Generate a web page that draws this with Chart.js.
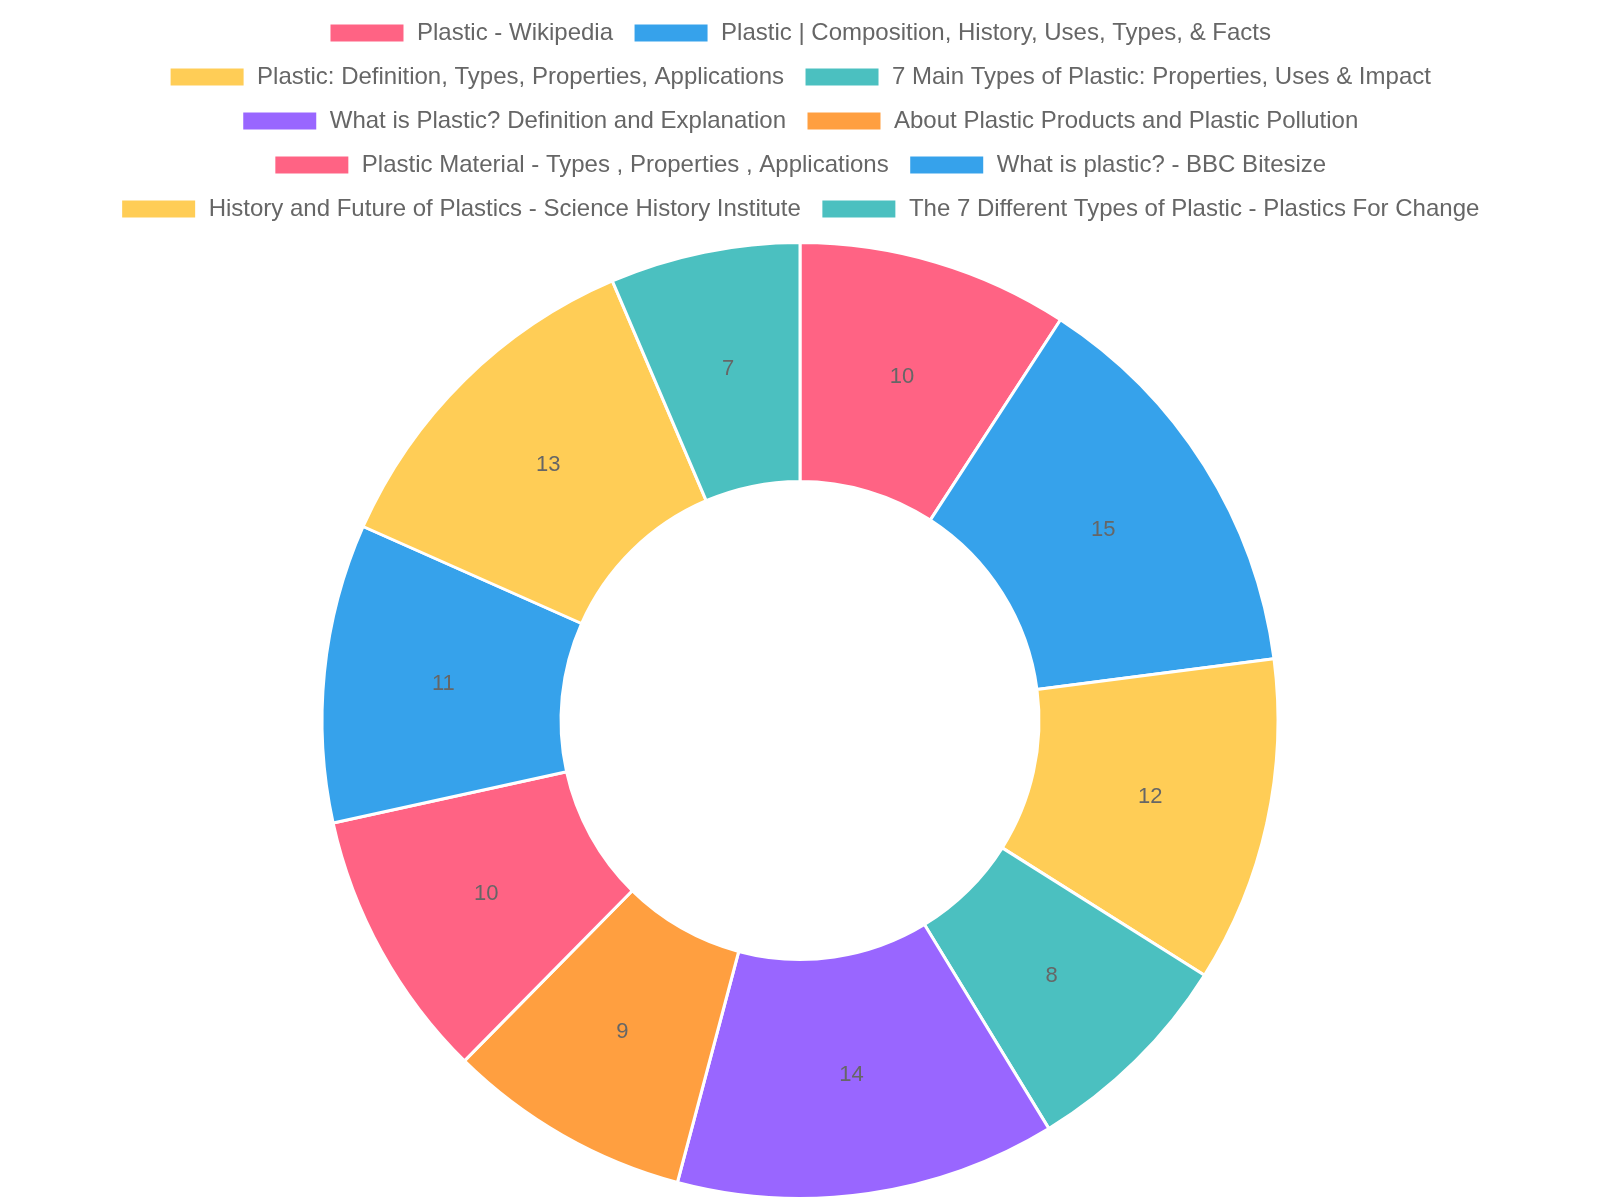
<!DOCTYPE html>
<html>
<head>
<meta charset="utf-8">
<script src="https://cdn.jsdelivr.net/npm/chart.js@4"></script>
<style>
  html, body { margin: 0; padding: 0; background: #fff; }
  #wrap { width: 1600px; height: 1200px; }
</style>
</head>
<body>
<div id="wrap"><canvas id="doughnutChart"></canvas></div>
<script>
// Chart data
const labels = [
    'Plastic - Wikipedia',
    'Plastic | Composition, History, Uses, Types, & Facts',
    'Plastic: Definition, Types, Properties, Applications',
    '7 Main Types of Plastic: Properties, Uses & Impact',
    'What is Plastic? Definition and Explanation',
    'About Plastic Products and Plastic Pollution',
    'Plastic Material - Types , Properties , Applications',
    'What is plastic? - BBC Bitesize',
    'History and Future of Plastics - Science History Institute',
    'The 7 Different Types of Plastic - Plastics For Change'
];
const values = [10, 15, 12, 8, 14, 9, 10, 11, 13, 7];
const sliceColors = [
    'rgb(255, 99, 132)', 'rgb(54, 162, 235)', 'rgb(255, 205, 86)', 'rgb(75, 192, 192)',
    'rgb(153, 102, 255)', 'rgb(255, 159, 64)', 'rgb(255, 99, 132)', 'rgb(54, 162, 235)',
    'rgb(255, 205, 86)', 'rgb(75, 192, 192)'
];

// Draws each value in the middle of its arc
const valueLabels = {
    id: 'valueLabels',
    afterDatasetsDraw: (chart) => {
        const ctx = chart.ctx;
        const meta = chart.getDatasetMeta(0);
        ctx.save();
        ctx.font = '22px "Helvetica Neue", Helvetica, Arial, sans-serif';
        ctx.fillStyle = '#666';
        ctx.textAlign = 'center';
        ctx.textBaseline = 'middle';
        meta.data.forEach((arc, i) => {
            const pos = arc.tooltipPosition();
            ctx.fillText(String(chart.data.datasets[0].data[i]), pos.x, pos.y);
        });
        ctx.restore();
    }
};

// Extra space under the legend
const legendMargin = {
    id: 'legendMargin',
    beforeInit: (chart) => {
        const fitLegend = chart.legend.fit;
        chart.legend.fit = function () {
            fitLegend.bind(chart.legend)();
            this.height += 10;
        };
    }
};

const ctx = document.getElementById('doughnutChart').getContext('2d');
new Chart(ctx, {
    type: 'doughnut',
    data: {
        labels: labels,
        datasets: [{
            data: values,
            backgroundColor: sliceColors,
            borderColor: '#fff',
            borderWidth: 3
        }]
    },
    options: {
        responsive: true,
        maintainAspectRatio: false,
        animation: false,
        cutout: '50%',
        layout: { padding: { top: 1 } },
        plugins: {
            legend: {
                position: 'top',
                labels: {
                    boxWidth: 76,
                    boxHeight: 20,
                    padding: 20,
                    color: '#666',
                    font: { size: 24 }
                }
            },
            tooltip: { enabled: false }
        }
    },
    plugins: [valueLabels, legendMargin]
});
</script>
</body>
</html>
